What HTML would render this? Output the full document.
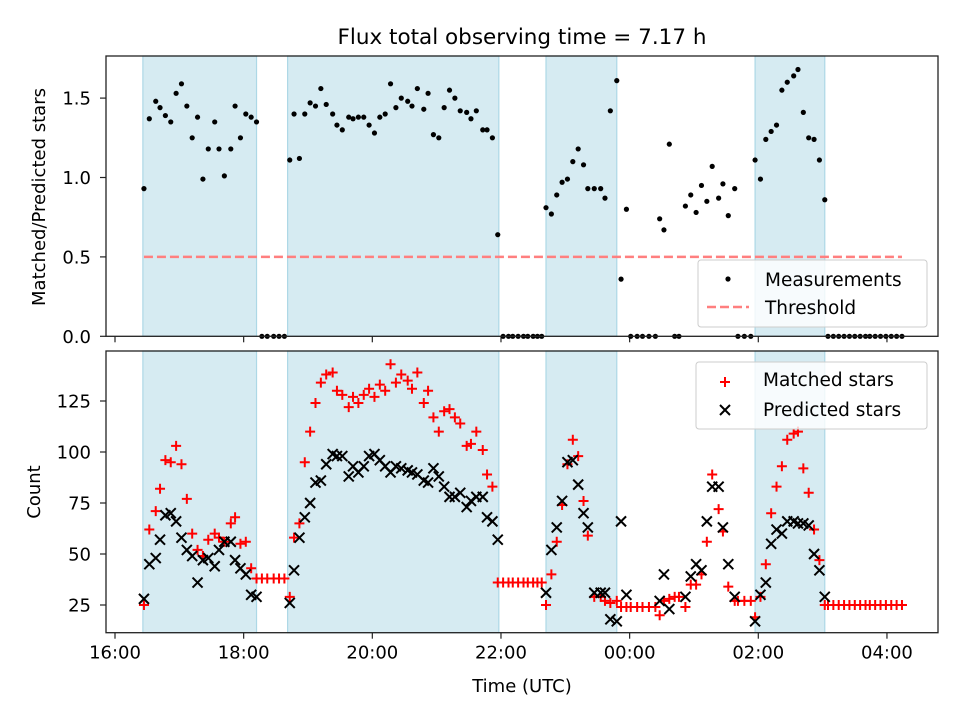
<!DOCTYPE html>
<html><head><meta charset="utf-8"><style>
body{margin:0;background:#fff;}
svg{display:block;font-family:"DejaVu Sans","Liberation Sans",sans-serif;}
</style></head><body>
<svg id="chart" width="960" height="720" viewBox="0 0 960 720" xmlns="http://www.w3.org/2000/svg">
<rect x="0" y="0" width="960" height="720" fill="#fff"/>
<text x="522" y="44" text-anchor="middle" font-size="21.5">Flux total observing time = 7.17 h</text>
<g id="top"></g>
<g id="bot"></g>
<text transform="translate(45,197) rotate(-90)" text-anchor="middle" font-size="18">Matched/Predicted stars</text>
<text transform="translate(40,492) rotate(-90)" text-anchor="middle" font-size="18">Count</text>
<text x="522" y="692" text-anchor="middle" font-size="18">Time (UTC)</text>
</svg>
<script>
// minutes since 16:00 UTC
const times = [27,32,38,42,47,52,57,62,67,72,77,82,87,93,97,102,108,112,117,122,127,132,
137,142,148,153,158,
163,167,172,177,182,187,192,197,203,207,212,218,222,227,232,237,242,247,252,257,262,267,273,277,282,288,292,297,302,307,312,317,322,328,332,337,343,347,352,357,
362,367,371,376,381,385,390,394,398,
402,407,412,417,422,427,432,437,441,447,453,457,462,468,472,477,
481,487,492,498,504,
508,512,517,
522,526,
532,537,542,547,552,557,563,567,572,578,
581,587,593,
597,602,607,612,617,622,627,633,637,642,647,652,657,662,
665,670,675,680,685,690,695,700,704,709,714,719,724,729,734];
const ratio = [0.93,1.37,1.48,1.44,1.39,1.35,1.53,1.59,1.45,1.25,1.38,0.99,1.18,1.35,1.18,1.01,1.18,1.45,1.25,1.40,1.38,1.35,
0,0,0,0,0,
1.11,1.40,1.12,1.40,1.47,1.45,1.56,1.46,1.40,1.33,1.30,1.38,1.37,1.38,1.38,1.33,1.28,1.38,1.40,1.59,1.44,1.50,1.48,1.45,1.56,1.43,1.53,1.27,1.25,1.44,1.55,1.50,1.42,1.41,1.37,1.42,1.30,1.30,1.25,0.64,
0,0,0,0,0,0,0,0,0,
0.81,0.77,0.89,0.97,0.99,1.10,1.18,1.08,0.93,0.93,0.93,0.87,1.42,1.61,0.36,0.80,
0,0,0,0,0,
0.74,0.67,1.21,
0,0,
0.82,0.89,0.78,0.95,0.85,1.07,0.87,0.96,0.76,0.93,
0,0,0,
1.11,0.99,1.24,1.29,1.33,1.55,1.60,1.64,1.68,1.41,1.25,1.24,1.11,0.86,
0,0,0,0,0,0,0,0,0,0,0,0,0,0,0];
const matched = [25,62,71,82,96,95,103,94,77,60,52,49,57,60,58,56,65,68,55,56,43,38,
38,38,38,38,38,
29,58,65,95,110,124,134,138,139,130,128,122,127,124,128,131,127,133,130,143,134,138,135,131,139,124,130,117,110,120,121,117,114,103,104,110,101,89,83,36,
36,36,36,36,36,36,36,36,36,
25,40,56,74,94,106,98,76,59,29,29,27,26,27,24,24,
24,24,24,24,24,
20,27,28,
29,29,
24,35,35,40,56,89,72,61,34,27,
27,27,27,
19,29,45,70,83,93,106,109,110,92,80,62,47,25,
25,25,25,25,25,25,25,25,25,25,25,25,25,25,25];
const predicted = [28,45,48,57,69,70,66,58,52,49,36,47,48,44,52,56,56,47,43,40,30,29,
null,null,null,null,null,
26,42,58,68,75,85,86,94,99,98,98,88,93,90,93,98,99,96,93,90,93,92,91,90,89,86,85,92,88,83,78,78,80,73,76,78,78,68,66,57,
null,null,null,null,null,null,null,null,null,
31,52,63,76,95,96,84,70,63,31,31,31,18,17,66,30,
null,null,null,null,null,
27,40,23,
null,null,
29,39,45,42,66,83,83,63,45,29,
null,null,null,
17,30,36,55,62,60,66,66,65,65,64,50,42,29,
null,null,null,null,null,null,null,null,null,null,null,null,null,null,null];
const spansStart = [26,161,402,597];
const spansEnd = [132,358,468,662];
const threshold = 0.5;
const topTicks = [0,0.5,1.0,1.5];
const topTickLabels = ["0.0","0.5","1.0","1.5"];
const botTicks = [25,50,75,100,125];
const botTickLabels = ["25","50","75","100","125"];
const xTicks = [0,120,240,360,480,600,720];
const xTickLabels = ["16:00","18:00","20:00","22:00","00:00","02:00","04:00"];

const NS="http://www.w3.org/2000/svg";
const L=106,R=938;
const X=m=>115+m/60*64.33;
const YT=v=>336.3-v*158.8;
const YB=c=>605-(c-25)*2.04;
function mk(parent,tag,attrs){const e=document.createElementNS(NS,tag);for(const k in attrs)e.setAttribute(k,attrs[k]);parent.appendChild(e);return e;}

function panel(g,top,bot,yfun,ticks,labels,showX){
  spansStart.forEach((s,i)=>{
    const r=mk(g,'rect',{x:X(s),y:top,width:X(spansEnd[i])-X(s),height:bot-top,fill:'#add8e6','fill-opacity':0.5,stroke:'#add8e6','stroke-width':1.2});
    
    
  });
  ticks.forEach((t,i)=>{
    const y=yfun(t);
    const l=mk(g,'line',{x1:L-6,x2:L,y1:y,y2:y,stroke:'#222','stroke-width':1.2});
    
    
    const tx=mk(g,'text',{x:L-15,y:y+6.5,'text-anchor':'end','font-size':18});
    tx.textContent=labels[i];
    
    
  });
  xTicks.forEach((t,i)=>{
    const x=X(t);
    const l=mk(g,'line',{x1:x,x2:x,y1:bot,y2:bot+6,stroke:'#222','stroke-width':1.2});
    
    
    if(showX){
      const tx=mk(g,'text',{x:x,y:bot+26,'text-anchor':'middle','font-size':18});
      tx.textContent=xTickLabels[i];
      
      
    }
  });
}
const gt=document.getElementById('top');
panel(gt,56,336.3,YT,topTicks,topTickLabels,false);
const th=mk(gt,'line',{x1:X(times[0]),x2:X(times[times.length-1]),y1:YT(threshold),y2:YT(threshold),stroke:'#ff7f7f','stroke-width':2.5,'stroke-dasharray':'9,4'});


times.forEach((t,i)=>{
  const c=mk(gt,'circle',{cx:X(t),cy:YT(ratio[i]),r:2.6,fill:'#000'});
  
  
});
const fr=mk(gt,'rect',{x:L,y:56,width:R-L,height:280.3,fill:'none',stroke:'#222','stroke-width':1.3});



const gb=document.getElementById('bot');
panel(gb,351,632.7,YB,botTicks,botTickLabels,true);
times.forEach((t,i)=>{
  const x=X(t),y=YB(matched[i]);
  const p=mk(gb,'path',{d:`M${x-5},${y}H${x+5}M${x},${y-5}V${y+5}`,stroke:'#f00','stroke-width':2});
  
  
});
times.forEach((t,i)=>{
  if(predicted[i]===null)return;
  const x=X(t),y=YB(predicted[i]);
  const p=mk(gb,'path',{d:`M${x-5},${y-5}L${x+5},${y+5}M${x-5},${y+5}L${x+5},${y-5}`,stroke:'#000','stroke-width':2});
  
  
});
const fb=mk(gb,'rect',{x:L,y:351,width:R-L,height:281.7,fill:'none',stroke:'#222','stroke-width':1.3});



// legends
const lg1=mk(gt,'g',{});


mk(lg1,'rect',{x:698,y:260,width:229,height:67,rx:3,fill:'#fff','fill-opacity':0.8,stroke:'#ccc'});
mk(lg1,'circle',{cx:728,cy:279,r:2.6,fill:'#000'});
let t1=mk(lg1,'text',{x:765,y:286,'font-size':18.5});t1.textContent='Measurements';
mk(lg1,'line',{x1:707,x2:749,y1:307,y2:307,stroke:'#ff7f7f','stroke-width':2.5,'stroke-dasharray':'9,4'});
let t2=mk(lg1,'text',{x:765,y:314,'font-size':18.5});t2.textContent='Threshold';

const lg2=mk(gb,'g',{});


mk(lg2,'rect',{x:696,y:362,width:231,height:67,rx:3,fill:'#fff','fill-opacity':0.8,stroke:'#ccc'});
mk(lg2,'path',{d:'M720,382H730M725,377V387',stroke:'#f00','stroke-width':2});
let t3=mk(lg2,'text',{x:763,y:386,'font-size':18.5});t3.textContent='Matched stars';
mk(lg2,'path',{d:'M720,405L730,415M720,415L730,405',stroke:'#000','stroke-width':2});
let t4=mk(lg2,'text',{x:763,y:416,'font-size':18.5});t4.textContent='Predicted stars';
</script>
</body></html>
